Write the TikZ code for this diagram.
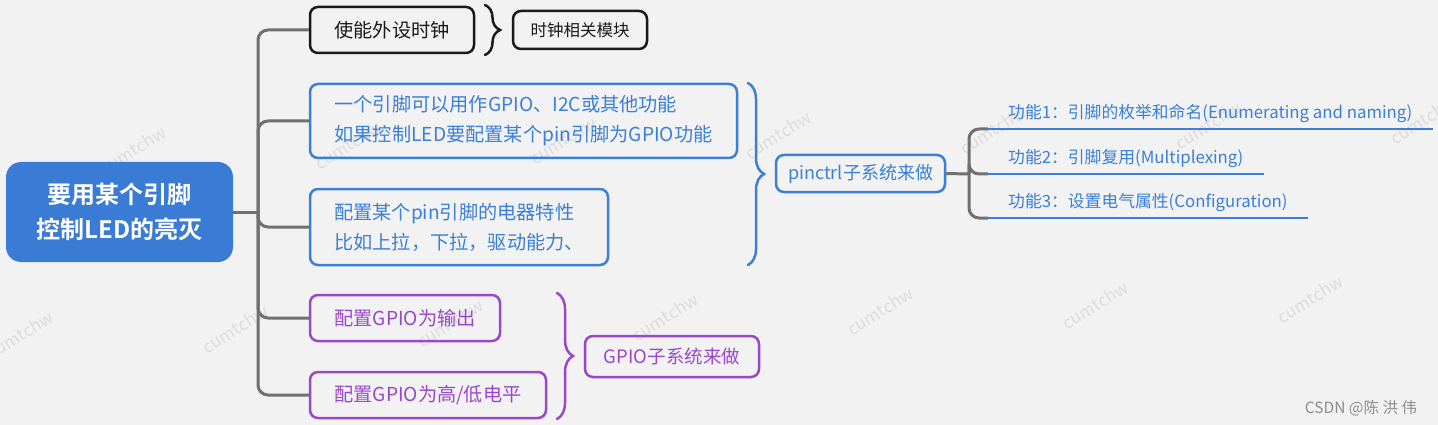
\documentclass[tikz,border=0pt]{standalone}
\usepackage{fontspec}
\setmainfont{Noto Sans CJK SC}[BoldFont={Noto Sans CJK SC Bold}]
\usetikzlibrary{decorations.pathreplacing}
\definecolor{mapbg}{HTML}{F2F2F2}
\definecolor{rootblue}{HTML}{3A7CD5}
\definecolor{mapblue}{HTML}{3B7FD6}
\definecolor{mappurple}{HTML}{9B47C9}
\definecolor{linegray}{HTML}{707070}
\definecolor{markgray}{HTML}{DCDCDC}
\definecolor{inkdark}{HTML}{1A1A1A}

\begin{document}
\begin{tikzpicture}[x=1pt, y=-1pt,
    box/.style={draw, rounded corners=8pt, line width=2.5pt, inner sep=0pt,
                align=left, font=\fontsize{19.2}{30}\selectfont},
    conn/.style={line width=3pt, linegray, rounded corners=10pt},
    feat/.style={anchor=south west, inner xsep=20pt, inner ysep=6pt,
                 text height=13pt, text depth=4pt, text=mapblue,
                 font=\fontsize{16.8}{20}\selectfont},
    uline/.style={line width=2.5pt, mapblue},
    brc/.style={decorate, decoration={brace, amplitude=#1}, line width=2.5pt, line cap=round},
    wmark/.style={text=markgray, rotate=32, font=\fontsize{17}{17}\selectfont}
]

% Background
\fill[mapbg] (0,0) rectangle (1438,425);
\useasboundingbox (0,0) rectangle (1438,425);

% Watermarks
\foreach \k in {0,...,6} {
    \node[wmark] (wa\k) at (133+215*\k, 150-5*\k) {cumtchw};
    \node[wmark] (wb\k) at (20+215*\k, 335-6*\k) {cumtchw};
}

% Root
\node[fill=rootblue, rounded corners=15pt, minimum width=227pt, minimum height=100pt,
      text=white, align=center, font=\fontsize{24}{35}\selectfont\bfseries]
      (root) at (119.5,212) {要用某个引脚\\控制LED的亮灭};

% First level
\node[box, draw=inkdark, text=inkdark, minimum width=164pt, minimum height=46pt]
      (clock) at (392,30) {使能外设时钟};
\node[box, draw=mapblue, text=mapblue, minimum width=427pt, minimum height=74pt]
      (mux) at (523.5,121) {一个引脚可以用作GPIO、I2C或其他功能\\如果控制LED要配置某个pin引脚为GPIO功能};
\node[box, draw=mapblue, text=mapblue, minimum width=298pt, minimum height=76pt]
      (elec) at (459,227) {配置某个pin引脚的电器特性\\比如上拉，下拉，驱动能力、};
\node[box, draw=mappurple, text=mappurple, minimum width=190pt, minimum height=46pt]
      (gpout) at (405,318) {配置GPIO为输出};
\node[box, draw=mappurple, text=mappurple, minimum width=236pt, minimum height=46pt]
      (gplevel) at (428,395) {配置GPIO为高/低电平};

% Summaries
\node[box, draw=inkdark, text=inkdark, minimum width=134pt, minimum height=38pt,
      font=\fontsize{16.5}{20}\selectfont] (clkmod) at (580,30) {时钟相关模块};
\node[box, draw=mapblue, text=mapblue, minimum width=169pt, minimum height=37pt,
      font=\fontsize{18}{20}\selectfont] (pinctrl) at (860.5,173.5) {pinctrl子系统来做};
\node[box, draw=mappurple, text=mappurple, minimum width=174pt, minimum height=41pt,
      font=\fontsize{18.5}{20}\selectfont] (gpiosub) at (672,356.5) {GPIO子系统来做};

% Braces
\draw[brc=15, inkdark] (485,5) -- (485,55);
\draw[brc=16, mapblue] (748,83) -- (748,265);
\draw[brc=16, mappurple] (557,293) -- (557,419);

% Trunk
\coordinate (trunk) at (258,212);
\draw[conn] (root.east) -- (trunk);
\foreach \child in {clock, mux, elec, gpout, gplevel}
    \draw[conn] (trunk) |- (\child.west);

% pinctrl functions
\node[feat] (fa) at (988,129) {功能1：引脚的枚举和命名(Enumerating and naming)};
\node[feat] (fb) at (988,174) {功能2：引脚复用(Multiplexing)};
\node[feat] (fc) at (988,218) {功能3：设置电气属性(Configuration)};
\coordinate (hub) at (969,174);
\draw[conn] (pinctrl.east) -- (hub);
\foreach \f in {fa, fb, fc} {
    \draw[conn] (hub) |- (\f.south west);
    \draw[uline] (\f.south west) -- (\f.south east);
}

% Credit
\node[text=linegray!80, font=\fontsize{15.5}{16}\selectfont] (credit) at (1361,408) {CSDN @陈 洪 伟};

\end{tikzpicture}
\end{document}
